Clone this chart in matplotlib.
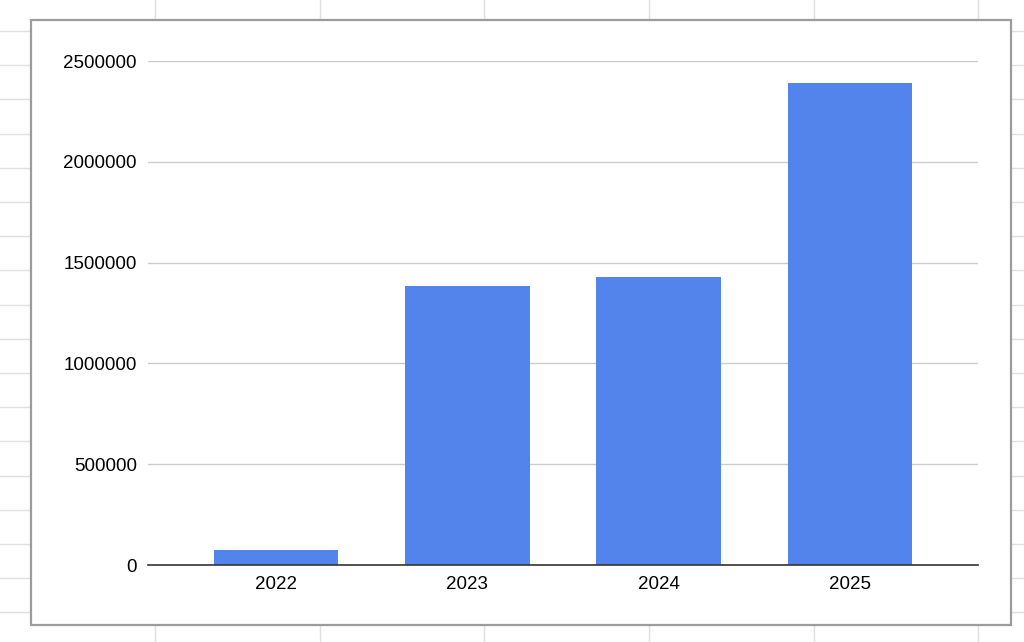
import matplotlib.pyplot as plt
from matplotlib.lines import Line2D
from matplotlib.patches import Rectangle

# 데이터
years = ['2022', '2023', '2024', '2025']
values = [75000, 1385000, 1430000, 2390000]
y_ticks = [0, 500000, 1000000, 1500000, 2000000, 2500000]

W, H = 1024, 642
fig = plt.figure(figsize=(W / 100, H / 100), dpi=100)
fig.patch.set_facecolor('white')
plt.rcParams['font.family'] = ['Liberation Sans', 'DejaVu Sans']

# 뒤쪽 스프레드시트 격자
sheet_cols = [155, 320, 484, 649, 814, 978]
sheet_rows = [31 + 34.2 * i for i in range(18)]
for cx in sheet_cols:
    fig.add_artist(Line2D([cx / W, cx / W], [0, 1], color='#e0e0e0', lw=1, zorder=0))
for ry in sheet_rows:
    fig.add_artist(Line2D([0, 1], [1 - ry / H, 1 - ry / H], color='#e0e0e0', lw=1, zorder=0))

# 차트 상자
box_l, box_t, box_r, box_b = 31, 20, 1011, 625
fig.add_artist(Rectangle((box_l / W, 1 - box_b / H), (box_r - box_l) / W, (box_b - box_t) / H,
                         facecolor='white', edgecolor='#9c9c9c', lw=1.6, zorder=1))

ax_l, ax_t, ax_r, ax_b = 148, 61, 978, 565
ax = fig.add_axes([ax_l / W, 1 - ax_b / H, (ax_r - ax_l) / W, (ax_b - ax_t) / H])
ax.set_zorder(2)
ax.patch.set_alpha(0)

x = list(range(len(years)))
ax.bar(x, values, width=0.65, color='#5384eb', zorder=3)

ax.set_xlim(-0.67, 3.67)
ax.set_ylim(0, 2500000)
ax.set_yticks(y_ticks)
ax.set_yticklabels([str(v) for v in y_ticks])
ax.set_xticks(x)
ax.set_xticklabels(years)
ax.tick_params(axis='both', length=0, labelsize=13.5, colors='#000000')
ax.tick_params(axis='y', pad=8)
ax.tick_params(axis='x', pad=8)

ax.grid(axis='y', color='#cccccc', lw=1, zorder=0)
for s in ['top', 'right', 'left']:
    ax.spines[s].set_visible(False)
ax.spines['bottom'].set_color('#333333')
ax.spines['bottom'].set_linewidth(1.2)
ax.spines['bottom'].set_zorder(4)

fig.savefig('out.png', dpi=100)
